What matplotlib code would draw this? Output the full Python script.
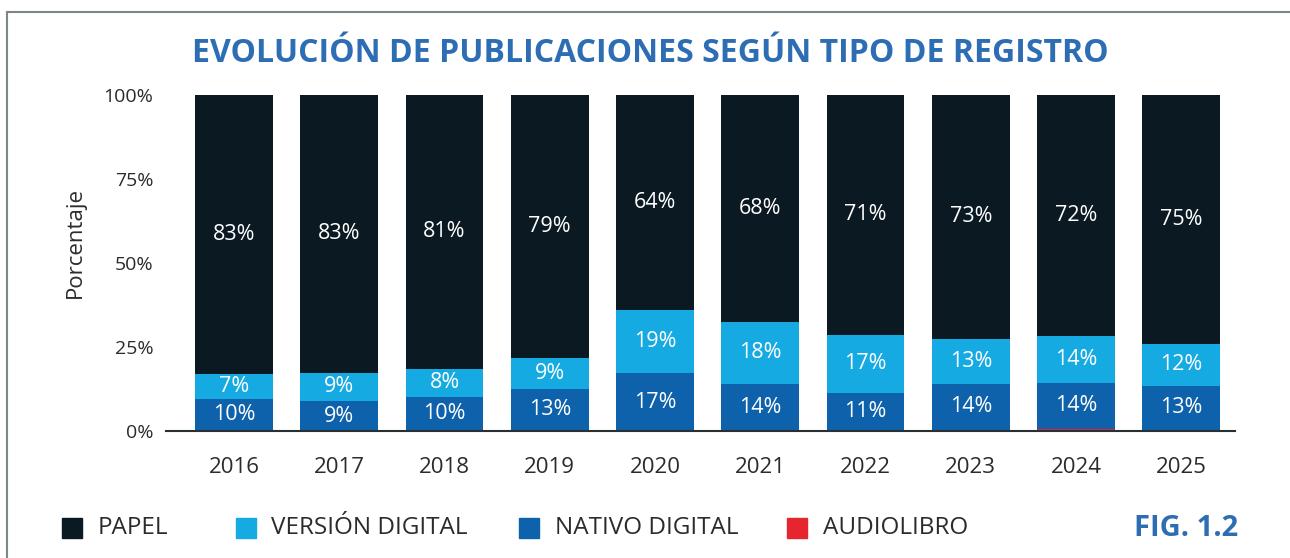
import matplotlib.pyplot as plt
from matplotlib.lines import Line2D
from matplotlib.patches import Rectangle
import numpy as np

plt.rcParams['font.family'] = ['Open Sans', 'DejaVu Sans']

years = ['2016', '2017', '2018', '2019', '2020', '2021', '2022', '2023', '2024', '2025']
audiolibro = [0, 0, 0, 0, 0, 0, 0, 0.4, 0.6, 0.4]
nativo = [9.6, 8.8, 10.2, 12.6, 17.2, 14.1, 11.4, 13.7, 13.8, 13.1]
version = [7.4, 8.6, 8.4, 9.2, 18.9, 18.4, 17.2, 13.4, 13.9, 12.3]
# papel fills the bar up to 100%
lbl_papel = [83, 83, 81, 79, 64, 68, 71, 73, 72, 75]
lbl_version = [7, 9, 8, 9, 19, 18, 17, 13, 14, 12]
lbl_nativo = [10, 9, 10, 13, 17, 14, 11, 14, 14, 13]

c_papel = '#0a1922'
c_version = '#15abe2'
c_nativo = '#0e62ab'
c_audio = '#e5262f'
c_blue = '#2d6db4'
c_text = '#2b2b2b'

audiolibro = np.array(audiolibro)
nativo = np.array(nativo)
version = np.array(version)
papel = 100 - audiolibro - nativo - version

fig = plt.figure(figsize=(12.9, 5.58), dpi=100)
ax = fig.add_axes([166/1290, 1-431/558, (1235-166)/1290, (431-95)/558])

x = np.arange(len(years))
w = 0.74
ax.bar(x, audiolibro, w, color=c_audio)
ax.bar(x, nativo, w, bottom=audiolibro, color=c_nativo)
ax.bar(x, version, w, bottom=audiolibro+nativo, color=c_version)
ax.bar(x, papel, w, bottom=audiolibro+nativo+version, color=c_papel)

for i in x:
    b0 = audiolibro[i]
    ax.text(i, b0 + nativo[i]/2, f'{lbl_nativo[i]}%', ha='center', va='center',
            color='white', fontsize=15.5)
    b1 = b0 + nativo[i]
    ax.text(i, b1 + version[i]/2, f'{lbl_version[i]}%', ha='center', va='center',
            color='white', fontsize=15.5)
    b2 = b1 + version[i]
    ax.text(i, b2 + papel[i]/2, f'{lbl_papel[i]}%', ha='center', va='center',
            color='white', fontsize=15.5)

ax.set_xlim(-0.646, 9.51)
ax.set_ylim(0, 100)
ax.set_xticks(x)
ax.set_xticklabels(years, fontsize=16, color=c_text)
ax.set_yticks([0, 25, 50, 75, 100])
ax.set_yticklabels(['0%', '25%', '50%', '75%', '100%'], fontsize=14, color=c_text)
ax.tick_params(axis='x', length=0, pad=19)
ax.tick_params(axis='y', length=0, pad=9)
for s in ['top', 'right', 'left']:
    ax.spines[s].set_visible(False)
ax.spines['bottom'].set_color('#2a2f33')
ax.spines['bottom'].set_linewidth(1.5)

fig.text(75/1290, 1-242/558, 'Porcentaje', rotation=90, ha='center', va='center',
         fontsize=16, color=c_text)

fig.text(650/1290, 1-53/558, 'EVOLUCIÓN DE PUBLICACIONES SEGÚN TIPO DE REGISTRO',
         ha='center', va='center', fontsize=23, fontweight='bold', color=c_blue)

# frame lines
fig.add_artist(Line2D([7/1290, 1], [1-12/558, 1-12/558], color='#7d8788', lw=1.5))
fig.add_artist(Line2D([7/1290, 7/1290], [0, 1-12/558], color='#7d8788', lw=1.5))

# legend
legend_items = [('PAPEL', c_papel, 62, 98), ('VERSIÓN DIGITAL', c_version, 236, 271),
                ('NATIVO DIGITAL', c_nativo, 519, 555), ('AUDIOLIBRO', c_audio, 787, 823)]
for name, col, sx, tx in legend_items:
    fig.add_artist(Rectangle((sx/1290, 1-538/558), 20/1290, 20/558, color=col,
                             transform=fig.transFigure))
    fig.text(tx/1290, 1-528/558, name, ha='left', va='center', fontsize=17.5, color=c_text)

fig.text(1238/1290, 1-529/558, 'FIG. 1.2', ha='right', va='center', fontsize=21,
         fontweight='bold', color=c_blue)

fig.savefig('out.png', dpi=100)
